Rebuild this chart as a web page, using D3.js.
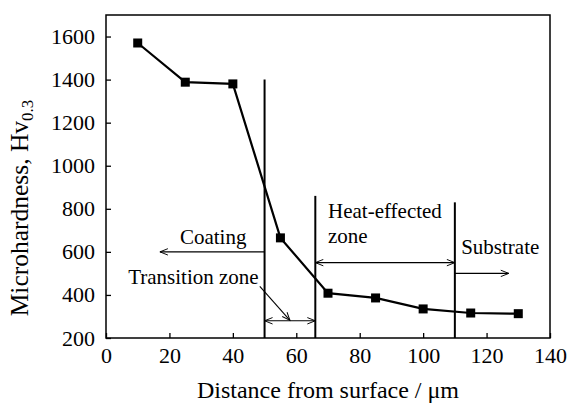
<!DOCTYPE html>
<html>
<head>
<meta charset="utf-8">
<script src="https://cdn.jsdelivr.net/npm/d3@7"></script>
<style>
  body { margin: 0; background: #fff; }
  svg, svg text { font-family: "Liberation Serif", "Times New Roman", serif !important; fill: #000; }
</style>
</head>
<body>
<div class="chart"></div>
<script>
// Data
const distance = [10, 25, 40, 55, 70, 85, 100, 115, 130];
const hardness = [1570, 1388, 1380, 665, 408, 386, 335, 316, 313];
const xTicks = [0, 20, 40, 60, 80, 100, 120, 140];
const yTicks = [200, 400, 600, 800, 1000, 1200, 1400, 1600];

// zone boundaries: [x, top of line]
const boundaries = [[50, 1400], [66, 860], [110, 830]];

const width = 570, height = 403;
const margin = { top: 15, right: 20, bottom: 65, left: 106 };
const serif = '"Liberation Serif", "Times New Roman", serif';

const svg = d3.select(".chart").append("svg")
  .attr("width", width)
  .attr("height", height)
  .style("font-family", serif);

const x = d3.scaleLinear().domain([0, 140]).range([margin.left, width - margin.right]);
const y = d3.scaleLinear().domain([200, 1700]).range([height - margin.bottom, margin.top]);

// arrow heads
const defs = svg.append("defs");
defs.append("marker")
  .attr("id", "arr")
  .attr("viewBox", "0 0 10 10")
  .attr("refX", 10).attr("refY", 5)
  .attr("markerWidth", 12).attr("markerHeight", 8)
  .attr("markerUnits", "userSpaceOnUse")
  .attr("orient", "auto-start-reverse")
  .append("path")
  .attr("d", "M0,1 L10,5 L0,9")
  .attr("fill", "none").attr("stroke", "#000").attr("stroke-width", 1.2);

// frame
svg.append("rect")
  .attr("x", x(0)).attr("y", y(1700))
  .attr("width", x(140) - x(0)).attr("height", y(200) - y(1700))
  .attr("fill", "none").attr("stroke", "#000").attr("stroke-width", 1.5);

// axes with inward ticks
const xAxis = svg.append("g")
  .attr("transform", `translate(0,${y(200)})`)
  .call(d3.axisBottom(x).tickValues(xTicks).tickFormat(d3.format("d"))
    .tickSizeInner(-5).tickSizeOuter(0).tickPadding(9));
const yAxis = svg.append("g")
  .attr("transform", `translate(${x(0)},0)`)
  .call(d3.axisLeft(y).tickValues(yTicks).tickFormat(d3.format("d"))
    .tickSizeInner(-5).tickSizeOuter(0).tickPadding(11));
[xAxis, yAxis].forEach(g => {
  g.attr("font-family", serif).attr("font-size", 22);
  g.select(".domain").remove();
  g.selectAll("line").attr("stroke", "#000").attr("stroke-width", 1.3);
  g.selectAll("text").attr("fill", "#000").style("font-family", serif);
});

// vertical zone boundaries
svg.selectAll(".bound")
  .data(boundaries)
  .enter().append("line")
  .attr("x1", d => x(d[0])).attr("x2", d => x(d[0]))
  .attr("y1", y(200)).attr("y2", d => y(d[1]))
  .attr("stroke", "#000").attr("stroke-width", 2);

// annotation arrows
const arrow = (x1, y1, x2, y2, both) => svg.append("line")
  .attr("x1", x1).attr("y1", y1).attr("x2", x2).attr("y2", y2)
  .attr("stroke", "#000").attr("stroke-width", 1.1)
  .attr("marker-end", "url(#arr)")
  .attr("marker-start", both ? "url(#arr)" : null);

arrow(x(50), y(600), x(17), y(600), false);       // Coating
arrow(x(66), y(550), x(110), y(550), true);       // Heat-effected zone
arrow(x(110), y(500), x(127), y(500), false);     // Substrate
arrow(x(48.5), y(440), x(58), y(282), false);     // Transition pointer
arrow(x(50), y(280), x(66), y(280), true);        // Transition zone

const label = (tx, ty, t) => svg.append("text")
  .attr("x", tx).attr("y", ty)
  .attr("font-family", serif)
  .attr("font-size", 21)
  .text(t);

label(x(23.3), y(635), "Coating");
label(x(70), y(755), "Heat-effected");
label(x(70), y(640), "zone");
label(x(112), y(590), "Substrate");
label(x(7), y(450), "Transition zone");

// data line and markers
const pts = distance.map((d, i) => ({ d, h: hardness[i] }));
svg.append("path")
  .datum(pts)
  .attr("d", d3.line().x(p => x(p.d)).y(p => y(p.h)))
  .attr("fill", "none").attr("stroke", "#000").attr("stroke-width", 2.2);

svg.selectAll(".pt")
  .data(pts)
  .enter().append("rect")
  .attr("x", p => x(p.d) - 4.5).attr("y", p => y(p.h) - 4.5)
  .attr("width", 9).attr("height", 9)
  .attr("fill", "#000");

// axis titles
svg.append("text")
  .attr("x", 328).attr("y", 398)
  .attr("text-anchor", "middle")
  .attr("font-family", serif)
  .attr("font-size", 24)
  .text("Distance from surface / μm");

const yt = svg.append("text")
  .attr("transform", `translate(28,208) rotate(-90)`)
  .attr("text-anchor", "middle")
  .attr("font-family", serif)
  .attr("font-size", 25.5);
yt.append("tspan").text("Microhardness, Hv");
yt.append("tspan").attr("dy", 5).attr("font-size", 17).text("0.3");
</script>
</body>
</html>
